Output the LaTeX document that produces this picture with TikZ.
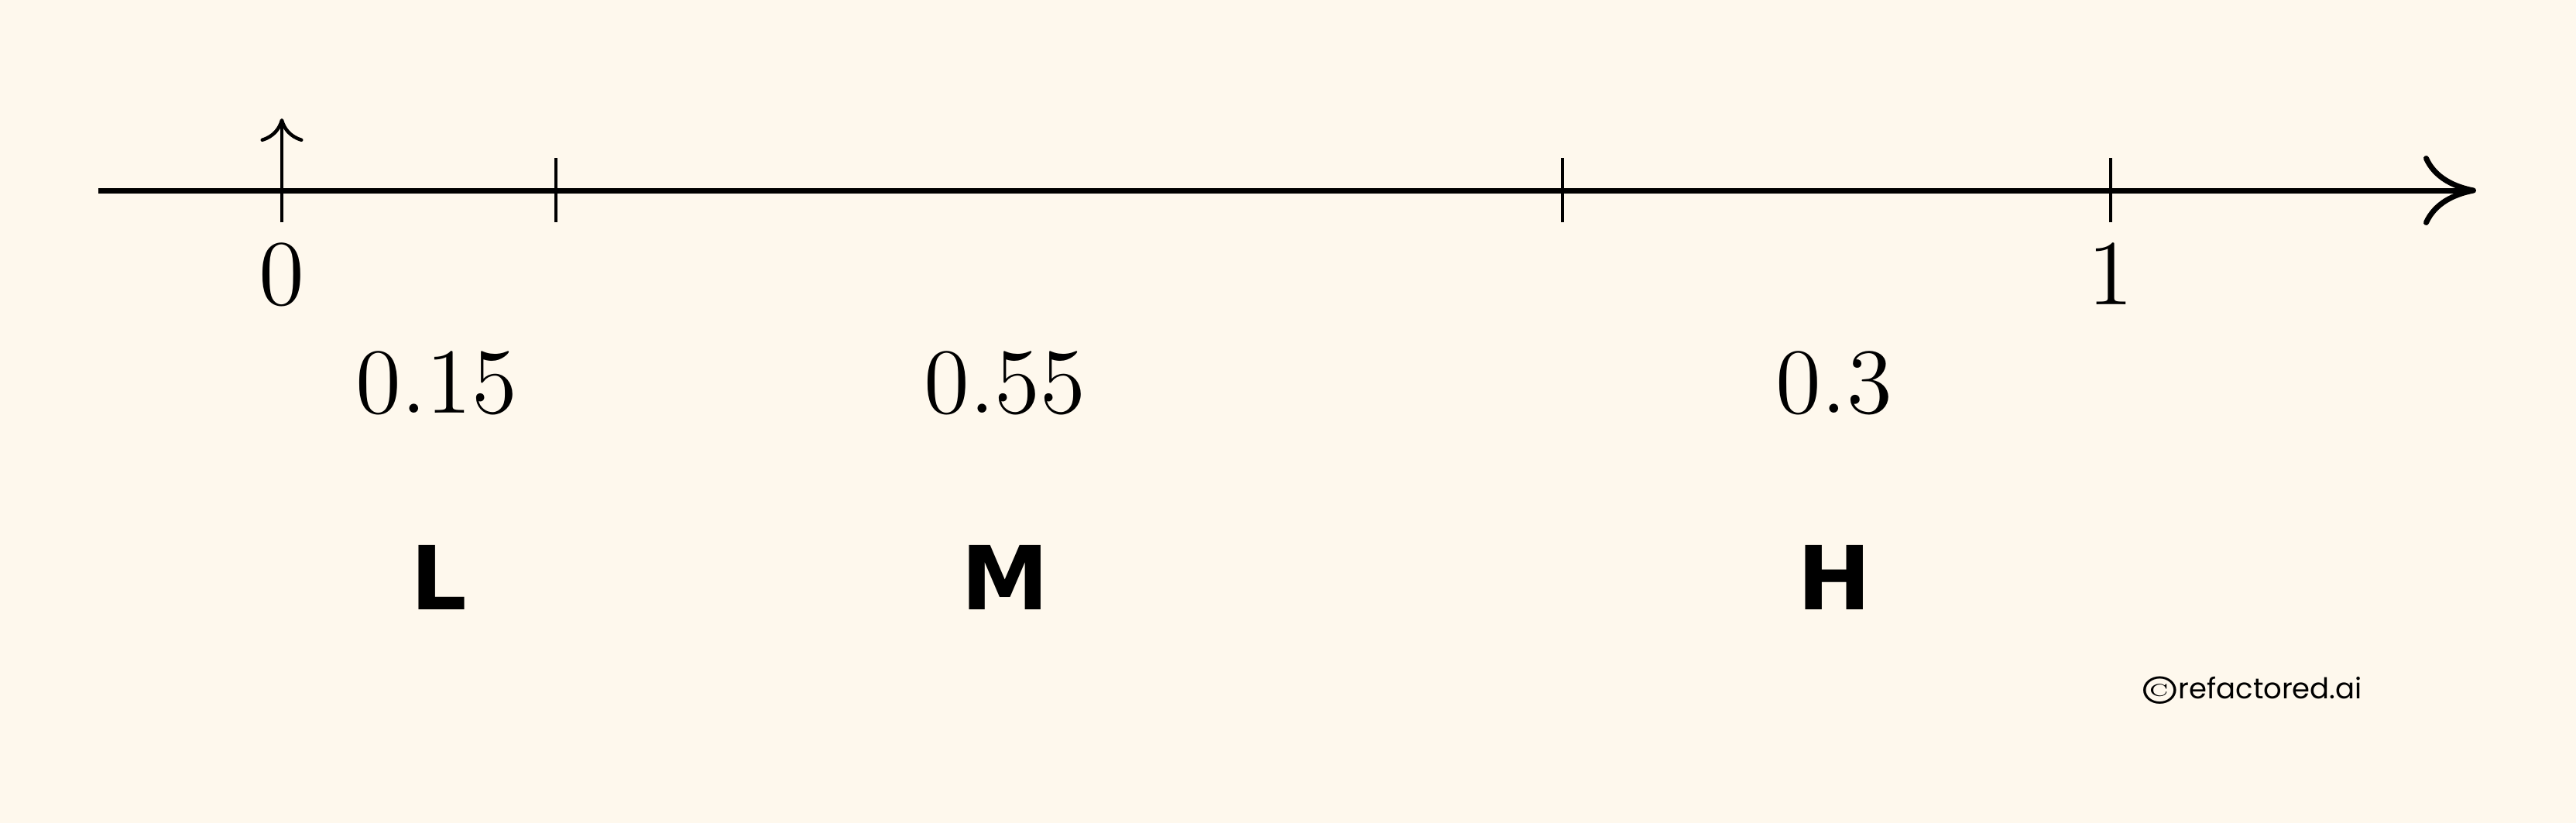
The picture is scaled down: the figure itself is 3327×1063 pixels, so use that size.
\documentclass[tikz,border=0pt]{standalone}
\usepackage{fontspec}
\usepackage{graphicx}
\usetikzlibrary{arrows.meta}
\newfontfamily\lblfont{DejaVu Sans}
\newfontfamily\crfont{Poppins}
\definecolor{bgcream}{RGB}{254,248,237}
\begin{document}
\begin{tikzpicture}[x=0.1pt,y=-0.1pt,
  axisline/.style={line width=0.7pt, -{Computer Modern Rightarrow[length=6.8pt,width=9pt]}},
  tickline/.style={line width=0.45pt},
  uparrow/.style={line width=0.45pt, -{Computer Modern Rightarrow[length=3pt,width=5.5pt]}},
  numlbl/.style={inner sep=0pt, font=\fontsize{12.9}{15}\selectfont},
  catlbl/.style={inner sep=0pt, font=\lblfont\bfseries\fontsize{11.4}{14}\selectfont},
  crlbl/.style={inner sep=0pt}]
\fill[bgcream] (0,0) rectangle (3327,1063);
\useasboundingbox (0,0) rectangle (3327,1063);
% axis
\coordinate (axL) at (127,246);
\coordinate (axR) at (3198,246);
\draw[axisline] (axL) -- (axR);
% ticks
\coordinate (t0b) at (364,287);
\coordinate (t0t) at (364,153);
\draw[uparrow] (t0b) -- (t0t);
\foreach \nm/\xx in {t1/718, t2/2018, t3/2726} {
  \coordinate (\nm b) at (\xx,287);
  \coordinate (\nm t) at (\xx,204);
  \draw[tickline] (\nm b) -- (\nm t);
}
% tick labels
\node[numlbl, anchor=base] (zero) at (364,393) {$0$};
\node[numlbl, anchor=base] (one) at (2726,393) {$1$};
% probabilities
\node[numlbl, anchor=base] (p1) at (564,533) {$0.15$};
\node[numlbl, anchor=base] (p2) at (1298,533) {$0.55$};
\node[numlbl, anchor=base] (p3) at (2369,533) {$0.3$};
% categories
\node[catlbl, anchor=base] (cL) at (567,787) {L};
\node[catlbl, anchor=base] (cM) at (1298,787) {M};
\node[catlbl, anchor=base] (cH) at (2369,787) {H};
% copyright
\node[crlbl, anchor=base west] (cr) at (2766,902)
  {\raisebox{-0.7pt}{\fontsize{5.2}{6}\selectfont\scalebox{1.2}[1]{\textcopyright}}\hspace{0.3pt}{\crfont\fontsize{3.7}{4}\selectfont refactored.ai}};
\end{tikzpicture}
\end{document}
